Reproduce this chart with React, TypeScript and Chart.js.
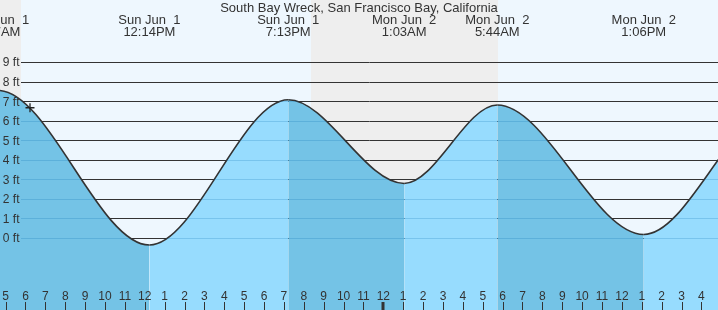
import React, { useEffect, useRef } from 'react';
import { Chart, registerables } from 'chart.js';

Chart.register(...registerables);

const TITLE = 'South Bay Wreck, San Francisco Bay, California';

// Hours counted from Sun Jun 1, 00:00 (local)
const tideHours = [-1.4, 4.62, 12.233, 19.217, 25.05, 29.733, 37.1, 43.67, 50.2];
const tideHeights = [2.4, 7.55, -0.36, 7.07, 2.79, 6.8, 0.18, 6.5, 2.9];

// Labelled extremes shown at the top
const labelHours = [4.62, 12.233, 19.217, 25.05, 29.733, 37.1];
const labelDates = ['Sun Jun  1', 'Sun Jun  1', 'Sun Jun  1', 'Mon Jun  2', 'Mon Jun  2', 'Mon Jun  2'];
const labelTimes = ['4:37AM', '12:14PM', '7:13PM', '1:03AM', '5:44AM', '1:06PM'];

// Night periods (sunset -> sunrise)
const nightStarts = [0, 20.362];
const nightEnds = [5.774, 29.769];

// Current-time marker
const nowHour = 6.227;
const nowHeight = 6.66;

// Axis ticks
const ftTicks = [0, 1, 2, 3, 4, 5, 6, 7, 8, 9];
const ftLabels = ['0 ft', '1 ft', '2 ft', '3 ft', '4 ft', '5 ft', '6 ft', '7 ft', '8 ft', '9 ft'];
const hourTicks = [5, 6, 7, 8, 9, 10, 11, 12, 13, 14, 15, 16, 17, 18, 19, 20, 21, 22, 23, 24, 25, 26, 27, 28, 29, 30, 31, 32, 33, 34, 35, 36, 37, 38, 39, 40];
const hourLabels = ['5', '6', '7', '8', '9', '10', '11', '12', '1', '2', '3', '4', '5', '6', '7', '8', '9', '10', '11', '12', '1', '2', '3', '4', '5', '6', '7', '8', '9', '10', '11', '12', '1', '2', '3', '4'];

const X_MIN = 4.718;
const X_MAX = 40.835;
const Y_MIN = -3.682;
const Y_MAX = 12.17;

const DAY_BG = '#EEF7FE';
const NIGHT_BG = '#EEEEEE';
const FALL_FILL = '#74C3E6';
const RISE_FILL = '#97DCFE';
const GRID_DARK = '#333333';
const GRID_UNDER = 'rgba(0, 100, 170, 0.2)';
const TEXT = '#333333';
const GRID_LEFT = 21;
const FONT_TOP = '13px "Liberation Sans", Arial, sans-serif';
const FONT_AXIS = '12px "Liberation Sans", Arial, sans-serif';

const decor = {
  id: 'tideDecor',
  beforeDraw(chart: any) {
    const { ctx, width, height } = chart;
    const x = chart.scales.x;
    ctx.save();
    ctx.fillStyle = DAY_BG;
    ctx.fillRect(0, 0, width, height);
    ctx.fillStyle = NIGHT_BG;
    nightStarts.forEach((s, i) => {
      const x0 = x.getPixelForValue(s);
      const x1 = x.getPixelForValue(nightEnds[i]);
      ctx.fillRect(x0, 0, x1 - x0, height);
    });
    ctx.restore();
  },
  beforeDatasetsDraw(chart: any) {
    const { ctx, width } = chart;
    const y = chart.scales.y;
    ctx.save();
    ctx.strokeStyle = GRID_DARK;
    ctx.lineWidth = 1;
    ctx.beginPath();
    ftTicks.forEach((v) => {
      const py = Math.round(y.getPixelForValue(v)) + 0.5;
      ctx.moveTo(GRID_LEFT, py);
      ctx.lineTo(width, py);
    });
    ctx.stroke();
    ctx.restore();
  },
  afterDatasetsDraw(chart: any) {
    const { ctx, width, height } = chart;
    const x = chart.scales.x;
    const y = chart.scales.y;
    const pts = chart.getDatasetMeta(0).data as any[];
    // lighter grid lines under the water
    ctx.save();
    ctx.beginPath();
    ctx.moveTo(pts[0].x, height);
    ctx.lineTo(pts[0].x, pts[0].y);
    for (let i = 1; i < pts.length; i++) {
      const a = pts[i - 1];
      const b = pts[i];
      ctx.bezierCurveTo(a.cp2x, a.cp2y, b.cp1x, b.cp1y, b.x, b.y);
    }
    ctx.lineTo(pts[pts.length - 1].x, height);
    ctx.closePath();
    ctx.clip();
    ctx.strokeStyle = GRID_UNDER;
    ctx.lineWidth = 1;
    ctx.beginPath();
    ftTicks.forEach((v) => {
      const py = Math.round(y.getPixelForValue(v)) + 0.5;
      ctx.moveTo(GRID_LEFT, py);
      ctx.lineTo(width, py);
    });
    ctx.stroke();
    ctx.restore();

    // y labels
    ctx.save();
    ctx.fillStyle = TEXT;
    ctx.font = FONT_AXIS;
    ctx.textAlign = 'right';
    ctx.textBaseline = 'alphabetic';
    ftTicks.forEach((v, i) => {
      const py = y.getPixelForValue(v);
      ctx.fillText(ftLabels[i], 19.5, py + 4.5);
    });

    // hour ticks + labels
    ctx.textAlign = 'center';
    ctx.strokeStyle = TEXT;
    hourTicks.forEach((h, i) => {
      const px = x.getPixelForValue(h);
      ctx.fillText(hourLabels[i], px, 300);
      const thick = h % 24 === 0;
      ctx.lineWidth = thick ? 3 : 1;
      const tx = thick ? Math.round(px) : Math.round(px) + 0.5;
      ctx.beginPath();
      ctx.moveTo(tx, 302);
      ctx.lineTo(tx, height);
      ctx.stroke();
    });
    ctx.restore();
  },
  afterDraw(chart: any) {
    const { ctx, width } = chart;
    const x = chart.scales.x;
    ctx.save();
    ctx.fillStyle = TEXT;
    ctx.font = FONT_TOP;
    ctx.textAlign = 'center';
    ctx.textBaseline = 'alphabetic';
    ctx.fillText(TITLE, width / 2, 11.5);
    labelHours.forEach((h, i) => {
      const px = x.getPixelForValue(h);
      ctx.fillText(labelDates[i], px, 24);
      ctx.fillText(labelTimes[i], px, 36);
    });
    ctx.restore();
  },
};

export default function App() {
  const ref = useRef<HTMLCanvasElement | null>(null);
  useEffect(() => {
    if (!ref.current) return;
    const chart = new Chart(ref.current, {
      type: 'line',
      data: {
        datasets: [
          {
            data: tideHours.map((h, i) => ({ x: h, y: tideHeights[i] })),
            borderColor: '#333333',
            borderWidth: 1.6,
            backgroundColor: FALL_FILL,
            fill: 'start',
            pointRadius: 0,
            cubicInterpolationMode: 'monotone',
            segment: {
              backgroundColor: (c: any) => (c.p1.parsed.y > c.p0.parsed.y ? RISE_FILL : FALL_FILL),
            },
            order: 2,
          } as any,
          {
            type: 'scatter',
            data: [{ x: nowHour, y: nowHeight }],
            pointStyle: 'cross',
            pointRadius: 4.5,
            borderColor: '#222222',
            borderWidth: 1.3,
            order: 1,
          } as any,
        ],
      },
      options: {
        responsive: false,
        animation: false,
        events: [],
        layout: { padding: 0, autoPadding: false },
        plugins: { legend: { display: false }, tooltip: { enabled: false }, title: { display: false } },
        scales: {
          x: { type: 'linear', min: X_MIN, max: X_MAX, display: false },
          y: { type: 'linear', min: Y_MIN, max: Y_MAX, display: false },
        },
      },
      plugins: [decor],
    });
    return () => chart.destroy();
  }, []);
  return (
    <div style={{ position: 'absolute', left: 0, top: 0, width: 718, height: 310 }}>
      <canvas ref={ref} width={718} height={310} style={{ display: 'block' }} />
    </div>
  );
}
